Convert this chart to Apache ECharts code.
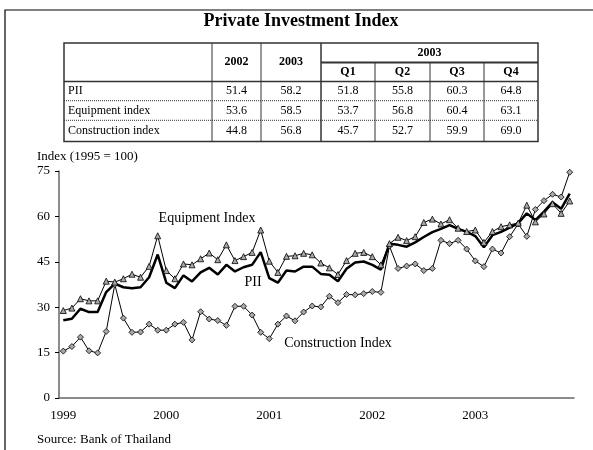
<!DOCTYPE html>
<html>
<head>
<meta charset="utf-8">
<script src="https://cdn.jsdelivr.net/npm/echarts@6/dist/echarts.min.js"></script>
<style>
  body { margin: 0; background: #fff; }
  #main { width: 593px; height: 450px; }
</style>
</head>
<body>
<div id="main"></div>
<script>
// monthly, Jan 1999 - Dec 2003
const years = ['1999', '2000', '2001', '2002', '2003'];
const equipment = [
  28.9, 29.7, 32.8, 32.1, 32.1, 38.6, 38.3, 39.4, 40.9, 39.9, 43.5, 53.6,
  42.1, 39.4, 44.3, 44.0, 46.0, 47.9, 45.7, 50.6, 45.4, 46.7, 48.1, 55.5,
  45.2, 41.5, 46.8, 47.0, 47.8, 47.3, 44.6, 43.0, 40.8, 45.4, 47.8, 48.1,
  46.7, 44.0, 51.0, 53.1, 52.0, 53.3, 58.0, 59.1, 57.5, 58.9, 56.1, 55.0,
  55.5, 51.4, 55.0, 56.6, 57.2, 57.8, 63.7, 58.2, 60.8, 64.2, 61.0, 65.1
];
const pii = [
  25.7, 26.2, 29.5, 28.4, 28.4, 35.0, 37.8, 36.6, 36.3, 36.6, 39.9, 47.4,
  38.1, 36.3, 40.5, 38.5, 41.5, 43.0, 40.8, 44.0, 41.8, 43.2, 44.0, 48.2,
  39.6, 38.1, 42.1, 41.8, 43.4, 43.4, 41.0, 40.7, 38.6, 42.7, 44.8, 45.1,
  44.0, 42.4, 51.0, 50.6, 50.0, 51.4, 53.2, 54.8, 55.9, 57.1, 55.9, 54.9,
  53.5, 49.8, 53.8, 54.9, 56.3, 57.8, 61.0, 58.8, 61.6, 64.7, 62.5, 67.5
];
const construction = [
  15.5, 17.0, 20.1, 15.6, 14.9, 22.0, 37.5, 26.4, 21.7, 21.8, 24.4, 22.4,
  22.4, 24.4, 25.0, 19.2, 28.5, 26.1, 25.6, 24.0, 30.3, 30.3, 27.4, 21.7,
  19.6, 24.4, 27.1, 25.5, 28.4, 30.4, 30.1, 33.6, 31.5, 34.2, 34.1, 34.5,
  35.2, 34.9, 50.2, 42.8, 43.6, 44.3, 42.1, 42.8, 52.1, 51.0, 52.1, 49.2,
  45.3, 43.4, 49.2, 47.9, 53.3, 57.5, 53.4, 62.3, 65.2, 67.3, 66.4, 74.6
];

// summary table
const tableCols = ['2002', '2003', 'Q1', 'Q2', 'Q3', 'Q4'];
const tableRows = ['PII', 'Equipment index', 'Construction index'];
const tableValues = [
  [51.4, 58.2, 51.8, 55.8, 60.3, 64.8],
  [53.6, 58.5, 53.7, 56.8, 60.4, 63.1],
  [44.8, 56.8, 45.7, 52.7, 59.9, 69.0]
];

const serif = '"Liberation Serif", "DejaVu Serif", serif';

let months = [];
years.forEach(function (y) {
  for (let m = 1; m <= 12; m++) months.push(y + '-' + m);
});

// table geometry
const colX = [64, 212, 261, 321, 375, 430, 484, 538];
const rowY = [43, 62.5, 81.5, 100.7, 120.3, 141.5];
let g = [];
g.push({ type: 'rect', shape: { x: 5, y: 10, width: 620, height: 480 }, style: { fill: 'none', stroke: '#000', lineWidth: 1.2 } });
g.push({ type: 'text', x: 301, y: 21, style: { text: 'Private Investment Index', font: 'bold 18px ' + serif, fill: '#000', align: 'center', verticalAlign: 'middle' } });
g.push({ type: 'rect', shape: { x: colX[0], y: rowY[0], width: colX[7] - colX[0], height: rowY[5] - rowY[0] }, style: { fill: 'none', stroke: '#333', lineWidth: 1.5 } });
// thick header lines
g.push({ type: 'line', shape: { x1: colX[3], y1: rowY[1], x2: colX[7], y2: rowY[1] }, style: { stroke: '#333', lineWidth: 2 } });
g.push({ type: 'line', shape: { x1: colX[0], y1: rowY[2], x2: colX[7], y2: rowY[2] }, style: { stroke: '#333', lineWidth: 1.5 } });
// dotted row separators
[3, 4].forEach(function (r) {
  g.push({ type: 'line', shape: { x1: colX[0], y1: rowY[r], x2: colX[7], y2: rowY[r] }, style: { stroke: '#333', lineWidth: 1, lineDash: [1, 1] } });
});
// vertical lines
for (let c = 1; c < 7; c++) {
  let top = c <= 3 ? rowY[0] : rowY[1];
  g.push({ type: 'line', shape: { x1: colX[c], y1: top, x2: colX[c], y2: rowY[5] }, style: { stroke: '#333', lineWidth: c === 3 ? 1.5 : 1 } });
}
// header text
const bold = 'bold 12px ' + serif;
g.push({ type: 'text', x: (colX[1] + colX[2]) / 2, y: (rowY[0] + rowY[2]) / 2, style: { text: tableCols[0], font: bold, fill: '#000', align: 'center', verticalAlign: 'middle' } });
g.push({ type: 'text', x: (colX[2] + colX[3]) / 2, y: (rowY[0] + rowY[2]) / 2, style: { text: tableCols[1], font: bold, fill: '#000', align: 'center', verticalAlign: 'middle' } });
g.push({ type: 'text', x: (colX[3] + colX[7]) / 2, y: (rowY[0] + rowY[1]) / 2, style: { text: '2003', font: bold, fill: '#000', align: 'center', verticalAlign: 'middle' } });
for (let c = 2; c < 6; c++) {
  g.push({ type: 'text', x: (colX[c + 1] + colX[c + 2]) / 2, y: (rowY[1] + rowY[2]) / 2, style: { text: tableCols[c], font: bold, fill: '#000', align: 'center', verticalAlign: 'middle' } });
}
// body
tableRows.forEach(function (name, r) {
  let cy = (rowY[r + 2] + rowY[r + 3]) / 2;
  g.push({ type: 'text', x: colX[0] + 4, y: cy, style: { text: name, font: '12px ' + serif, fill: '#000', align: 'left', verticalAlign: 'middle' } });
  tableValues[r].forEach(function (v, c) {
    g.push({ type: 'text', x: (colX[c + 1] + colX[c + 2]) / 2, y: cy, style: { text: v.toFixed(1), font: '12px ' + serif, fill: '#000', align: 'center', verticalAlign: 'middle' } });
  });
});
// chart annotations
g.push({ type: 'text', x: 37, y: 157, style: { text: 'Index (1995 = 100)', font: '13px ' + serif, fill: '#000', verticalAlign: 'middle' } });
g.push({ type: 'text', x: 207, y: 218, style: { text: 'Equipment Index', font: '14px ' + serif, fill: '#000', align: 'center', verticalAlign: 'middle' } });
g.push({ type: 'text', x: 253, y: 282, style: { text: 'PII', font: '14px ' + serif, fill: '#000', align: 'center', verticalAlign: 'middle' } });
g.push({ type: 'text', x: 338, y: 343, style: { text: 'Construction Index', font: '14px ' + serif, fill: '#000', align: 'center', verticalAlign: 'middle' } });
g.push({ type: 'text', x: 37, y: 440, style: { text: 'Source: Bank of Thailand', font: '13px ' + serif, fill: '#000', verticalAlign: 'middle' } });

let markerStyle = { color: '#a8a8a8', borderColor: '#000', borderWidth: 0.8 };

let option = {
  animation: false,
  grid: { left: 59, right: 19, top: 171, bottom: 52 },
  xAxis: {
    type: 'category',
    data: months,
    boundaryGap: true,
    axisLine: { lineStyle: { color: '#666', width: 1.5 } },
    axisTick: { inside: true, length: 4, interval: 11, lineStyle: { color: '#000' } },
    axisLabel: {
      interval: 11, margin: 11, color: '#000', fontFamily: serif, fontSize: 13,
      formatter: function (v) { return v.split('-')[0]; }
    },
    splitLine: { show: false }
  },
  yAxis: {
    type: 'value',
    min: 0, max: 75, interval: 15,
    axisLine: { show: true, lineStyle: { color: '#666', width: 1.5 } },
    axisTick: { show: true, length: 4, lineStyle: { color: '#000' } },
    axisLabel: { margin: 9, color: '#000', fontFamily: serif, fontSize: 13 },
    splitLine: { show: false }
  },
  series: [
    {
      name: 'Construction Index', type: 'line', data: construction,
      symbol: 'diamond', symbolSize: 6, showAllSymbol: true,
      lineStyle: { color: '#000', width: 1 }, itemStyle: markerStyle
    },
    {
      name: 'Equipment Index', type: 'line', data: equipment,
      symbol: 'triangle', symbolSize: 6, showAllSymbol: true,
      lineStyle: { color: '#000', width: 1 }, itemStyle: markerStyle
    },
    {
      name: 'PII', type: 'line', data: pii, symbol: 'none',
      lineStyle: { color: '#000', width: 2.5 }
    }
  ],
  graphic: g
};

let myChart = echarts.init(document.getElementById('main'));
myChart.setOption(option);
</script>
</body>
</html>
